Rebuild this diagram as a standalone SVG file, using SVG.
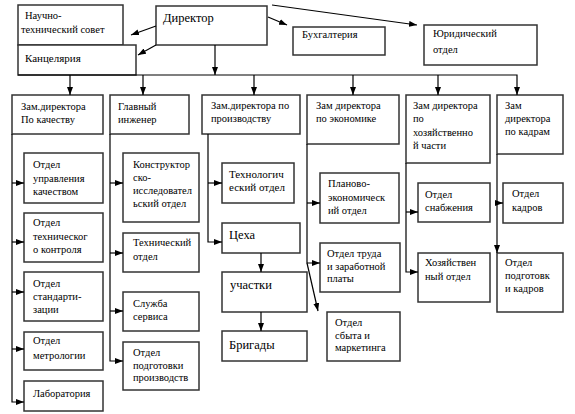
<svg xmlns="http://www.w3.org/2000/svg" width="575" height="414" viewBox="0 0 575 414">
<defs>
<marker id="ah" viewBox="0 0 8 6" refX="8" refY="3" markerWidth="8" markerHeight="6" markerUnits="userSpaceOnUse" orient="auto">
<path d="M0,0 L8,3 L0,6 Z" fill="#000"/>
</marker>
<style>
.box{fill:#fff;stroke:#333;stroke-width:1.5}
.a{fill:none;stroke:#000;stroke-width:1.2;marker-end:url(#ah)}
.t text{font-size:10.5px;fill:#000}
.t .big{font-size:12.5px}
.t .mid{font-size:11px}
</style>
</defs>
<rect width="575" height="414" fill="#fff"/>
<g class="t" font-family="'Liberation Serif', 'Times New Roman', 'DejaVu Serif', serif">
<g id="n-nts"><rect class="box" x="18" y="5" width="105" height="40"/><text x="25" y="19">Научно-</text><text x="21" y="33">технический совет</text></g>
<g id="n-kanc"><rect class="box" x="18" y="45" width="118" height="30"/><text class="mid" x="25" y="62">Канцелярия</text></g>
<g id="n-dir"><rect class="box" x="156" y="6" width="111" height="39"/><text class="big" x="163" y="22">Директор</text></g>
<g id="n-buh"><rect class="box" x="293" y="27" width="92" height="28"/><text x="302" y="38">Бухгалтерия</text></g>
<g id="n-jur"><rect class="box" x="424" y="25" width="113" height="40"/><text x="433" y="37">Юридический</text><text x="433" y="53">отдел</text></g>

<g id="n-zk"><rect class="box" x="12" y="95" width="91" height="39"/><text x="21" y="110">Зам.директора</text><text x="21" y="123">По качеству</text></g>
<g id="n-gi"><rect class="box" x="110" y="95" width="79" height="39"/><text x="118" y="110">Главный</text><text x="118" y="123">инженер</text></g>
<g id="n-zp"><rect class="box" x="202" y="95" width="98" height="39"/><text x="211" y="109">Зам.директора по</text><text x="211" y="122">производству</text></g>
<g id="n-ze"><rect class="box" x="307" y="95" width="92" height="49"/><text x="316" y="109">Зам директора</text><text x="316" y="122">по экономике</text></g>
<g id="n-zh"><rect class="box" x="406" y="95" width="84" height="68"/><text x="413" y="109">Зам директора</text><text x="413" y="122">по</text><text x="413" y="135.5">хозяйственно</text><text x="413" y="149">й части</text></g>
<g id="n-zkd"><rect class="box" x="497" y="95" width="66" height="59"/><text x="505" y="109">Зам</text><text x="505" y="122">директора</text><text x="505" y="135">по кадрам</text></g>

<g id="n-ouk"><rect class="box" x="24" y="153" width="79" height="50"/><text x="33" y="168">Отдел</text><text x="33" y="181.5">управления</text><text x="33" y="195">качеством</text></g>
<g id="n-otk"><rect class="box" x="24" y="213" width="79" height="49"/><text x="33" y="226">Отдел</text><text x="33" y="240">техническог</text><text x="33" y="253">о контроля</text></g>
<g id="n-os"><rect class="box" x="24" y="272" width="79" height="49"/><text x="33" y="287">Отдел</text><text x="33" y="300">стандарти-</text><text x="33" y="313">зации</text></g>
<g id="n-om"><rect class="box" x="24" y="332" width="79" height="38"/><text x="33" y="344">Отдел</text><text x="33" y="359">метрологии</text></g>
<g id="n-lab"><rect class="box" x="24" y="381" width="79" height="30"/><text x="33" y="397">Лаборатория</text></g>

<g id="n-kio"><rect class="box" x="123" y="153" width="76" height="69"/><text x="133" y="168">Конструктор</text><text x="133" y="181">ско-</text><text x="133" y="194">исследовател</text><text x="133" y="207">ьский отдел</text></g>
<g id="n-to"><rect class="box" x="123" y="233" width="76" height="39"/><text x="133" y="246">Технический</text><text x="133" y="260">отдел</text></g>
<g id="n-ss"><rect class="box" x="123" y="292" width="76" height="39"/><text x="133" y="307">Служба</text><text x="133" y="320">сервиса</text></g>
<g id="n-opp"><rect class="box" x="123" y="342" width="76" height="48"/><text x="133" y="356">Отдел</text><text x="133" y="369">подготовки</text><text x="133" y="381">производств</text></g>

<g id="n-tech"><rect class="box" x="222" y="163" width="72" height="40"/><text class="mid" x="229" y="178">Технологич</text><text class="mid" x="229" y="191">еский отдел</text></g>
<g id="n-ceh"><rect class="box" x="222" y="223" width="78" height="30"/><text class="big" x="229" y="239">Цеха</text></g>
<g id="n-uch"><rect class="box" x="222" y="272" width="85" height="40"/><text class="big" x="230" y="289">участки</text></g>
<g id="n-brig"><rect class="box" x="222" y="331" width="85" height="30"/><text class="big" x="229" y="349">Бригады</text></g>

<g id="n-peo"><rect class="box" x="320" y="173" width="79" height="50"/><text x="328" y="187">Планово-</text><text x="328" y="201">экономическ</text><text x="328" y="214">ий отдел</text></g>
<g id="n-otz"><rect class="box" x="320" y="243" width="80" height="49"/><text x="327" y="257">Отдел труда</text><text x="327" y="269.5">и заработной</text><text x="327" y="282">платы</text></g>
<g id="n-osm"><rect class="box" x="327" y="312" width="73" height="49"/><text x="335" y="326">Отдел</text><text x="335" y="339">сбыта и</text><text x="335" y="351">маркетинга</text></g>

<g id="n-osn"><rect class="box" x="418" y="183" width="72" height="39"/><text x="425" y="198">Отдел</text><text x="425" y="211">снабжения</text></g>
<g id="n-ho"><rect class="box" x="418" y="253" width="72" height="49"/><text x="425" y="266">Хозяйствен</text><text x="425" y="280">ный отдел</text></g>

<g id="n-ok"><rect class="box" x="503" y="183" width="60" height="40"/><text x="512" y="197">Отдел</text><text x="512" y="211">кадров</text></g>
<g id="n-opk"><rect class="box" x="497" y="253" width="66" height="59"/><text x="505" y="266">Отдел</text><text x="505" y="279">подготовк</text><text x="505" y="292">и кадров</text></g>
</g>

<g id="connectors">
<line class="a" x1="156" y1="26" x2="131" y2="35"/>
<line class="a" x1="156" y1="45" x2="138" y2="55"/>
<line class="a" x1="268" y1="17" x2="287" y2="25"/>
<line class="a" x1="272" y1="5" x2="417" y2="25"/>
<line class="a" x1="215" y1="45" x2="215" y2="75"/>
<polyline class="a" points="18,75 517,75 517,95"/>
<line class="a" x1="70" y1="75" x2="70" y2="95"/>
<line class="a" x1="143" y1="75" x2="143" y2="95"/>
<line class="a" x1="254" y1="75" x2="254" y2="95"/>
<line class="a" x1="353" y1="75" x2="353" y2="95"/>
<line class="a" x1="438" y1="75" x2="438" y2="95"/>

<polyline class="a" points="12,134 12,402 24,402"/>
<line class="a" x1="12" y1="183" x2="24" y2="183"/>
<line class="a" x1="12" y1="242" x2="24" y2="242"/>
<line class="a" x1="12" y1="292" x2="24" y2="292"/>
<line class="a" x1="12" y1="349" x2="24" y2="349"/>

<polyline class="a" points="110,134 110,361 123,361"/>
<line class="a" x1="110" y1="183" x2="123" y2="183"/>
<line class="a" x1="110" y1="253" x2="123" y2="253"/>
<line class="a" x1="110" y1="311" x2="123" y2="311"/>

<polyline class="a" points="208,134 208,242 222,242"/>
<line class="a" x1="208" y1="183" x2="222" y2="183"/>
<line class="a" x1="261" y1="253" x2="261" y2="272"/>
<line class="a" x1="261" y1="312" x2="261" y2="331"/>

<polyline class="a" points="307,144 307,263 320,263"/>
<line class="a" x1="307" y1="203" x2="320" y2="203"/>
<line class="a" x1="307" y1="263" x2="318" y2="311"/>

<polyline class="a" points="406,163 406,272 418,272"/>
<line class="a" x1="406" y1="212" x2="418" y2="212"/>

<line class="a" x1="497" y1="154" x2="497" y2="253"/>
<line class="a" x1="497" y1="203" x2="503" y2="203"/>
</g>
</svg>
